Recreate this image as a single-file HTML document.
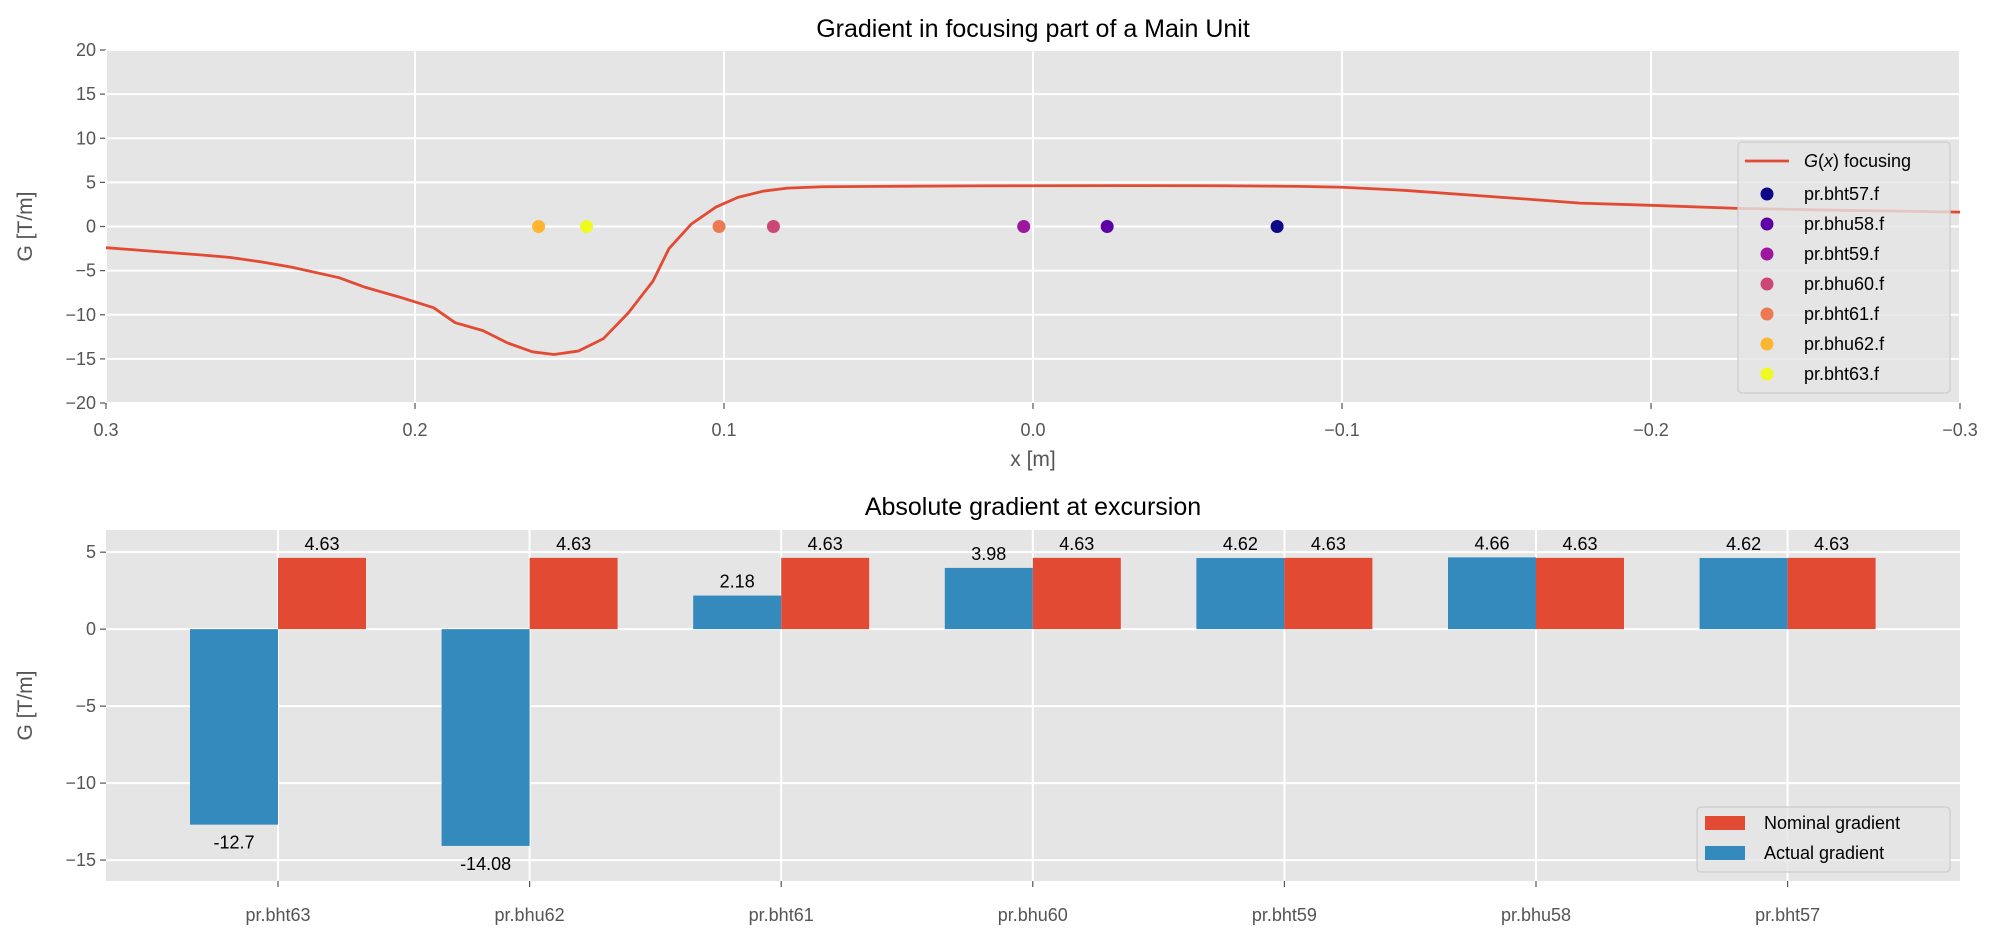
<!DOCTYPE html>
<html><head><meta charset="utf-8">
<style>
html,body{margin:0;padding:0;background:#fff;}
svg{display:block;font-family:"Liberation Sans","DejaVu Sans",sans-serif;}
</style></head>
<body>
<svg id="fig" width="2000" height="932" viewBox="0 0 2000 932" xmlns="http://www.w3.org/2000/svg"></svg>
<script>
// ---- Top chart data ----
const curveX = [0.300,0.285,0.270,0.260,0.250,0.240,0.2246,0.216,0.205,0.194,0.187,0.178,0.170,0.162,0.155,0.147,0.139,0.131,0.123,0.1178,0.1105,0.1026,0.0955,0.0874,0.0795,0.068,0.05,0.02,0.0,-0.03,-0.06,-0.0864,-0.1,-0.12,-0.144,-0.16,-0.177,-0.2,-0.228,-0.26,-0.3];
const curveG = [-2.4,-2.8,-3.2,-3.5,-4.0,-4.6,-5.8,-6.9,-8.0,-9.2,-10.9,-11.8,-13.2,-14.2,-14.5,-14.1,-12.7,-9.8,-6.2,-2.5,0.3,2.2,3.3,4.0,4.35,4.5,4.55,4.6,4.62,4.63,4.62,4.55,4.45,4.1,3.5,3.1,2.65,2.4,2.05,1.85,1.63];
const probeNames = ["pr.bht57.f","pr.bhu58.f","pr.bht59.f","pr.bhu60.f","pr.bht61.f","pr.bhu62.f","pr.bht63.f"];
const probeX = [-0.079,-0.024,0.003,0.084,0.1016,0.160,0.1445];
const probeColors = ["#0d0887","#5c01a6","#9c179e","#cc4778","#ed7953","#fdb42f","#f0f921"];
const topXTicks = [0.3,0.2,0.1,0.0,-0.1,-0.2,-0.3];
const topXTickLabels = ["0.3","0.2","0.1","0.0","\u22120.1","\u22120.2","\u22120.3"];
const topYTicks = [20,15,10,5,0,-5,-10,-15,-20];
const topYTickLabels = ["20","15","10","5","0","\u22125","\u221210","\u221215","\u221220"];
// ---- Bottom chart data ----
const categories = ["pr.bht63","pr.bhu62","pr.bht61","pr.bhu60","pr.bht59","pr.bhu58","pr.bht57"];
const actualG = [-12.7,-14.08,2.18,3.98,4.62,4.66,4.62];
const actualLabels = ["-12.7","-14.08","2.18","3.98","4.62","4.66","4.62"];
const nominalG = [4.63,4.63,4.63,4.63,4.63,4.63,4.63];
const nominalLabels = ["4.63","4.63","4.63","4.63","4.63","4.63","4.63"];
const botYTicks = [5,0,-5,-10,-15];
const botYTickLabels = ["5","0","\u22125","\u221210","\u221215"];

const NS="http://www.w3.org/2000/svg";
const svg=document.getElementById('fig');
function mk(tag,attrs,parent){const e=document.createElementNS(NS,tag);for(const k in attrs)e.setAttribute(k,attrs[k]);(parent||svg).appendChild(e);return e;}
function txt(s,attrs,parent){const e=mk('text',attrs,parent);e.textContent=s;return e;}

// ===== TOP AXES =====
const T={l:106,r:1960,t:50,b:403,x0:0.3,x1:-0.3,y0:20,y1:-20};
const tx=v=>T.l+(v-T.x0)/(T.x1-T.x0)*(T.r-T.l);
const ty=v=>T.t+(v-T.y0)/(T.y1-T.y0)*(T.b-T.t);
const gTop=mk('g',{});


let bg=mk('rect',{x:T.l,y:T.t,width:T.r-T.l,height:T.b-T.t,fill:'#e5e5e5'},gTop);


topYTicks.forEach((v,i)=>{
  const y=ty(v);
  const g=mk('line',{x1:T.l,x2:T.r,y1:y,y2:y,stroke:'#fff','stroke-width':2},gTop);
  
  
  mk('line',{x1:T.l-6,x2:T.l,y1:y,y2:y,stroke:'#555','stroke-width':1.2},gTop);
  const t=txt(topYTickLabels[i],{x:T.l-10,y:y+6,'text-anchor':'end','font-size':18,fill:'#555'},gTop);
  
  
});
topXTicks.forEach((v,i)=>{
  const x=tx(v);
  const g=mk('line',{x1:x,x2:x,y1:T.t,y2:T.b,stroke:'#fff','stroke-width':2},gTop);
  
  
  mk('line',{x1:x,x2:x,y1:T.b,y2:T.b+6,stroke:'#555','stroke-width':1.2},gTop);
  const t=txt(topXTickLabels[i],{x:x,y:T.b+33,'text-anchor':'middle','font-size':18,fill:'#555'},gTop);
  
  
});
const line=mk('polyline',{points:curveX.map((x,i)=>tx(x)+','+ty(curveG[i])).join(' '),fill:'none',stroke:'#E24A33','stroke-width':2.8,'stroke-linejoin':'round'},gTop);


probeX.forEach((x,i)=>{
  const c=mk('circle',{cx:tx(x),cy:ty(0),r:6.5,fill:probeColors[i]},gTop);
  
  
});
let t1=txt('Gradient in focusing part of a Main Unit',{x:(T.l+T.r)/2,y:37,'text-anchor':'middle','font-size':25,fill:'#000'},gTop);


let xl=txt('x [m]',{x:(T.l+T.r)/2,y:466,'text-anchor':'middle','font-size':21,fill:'#555'},gTop);


let yl=txt('G [T/m]',{x:0,y:0,'text-anchor':'middle','font-size':21,fill:'#555',transform:'translate(32,'+((T.t+T.b)/2)+') rotate(-90)'},gTop);


// top legend
const lg=mk('g',{},gTop);


mk('rect',{x:1738,y:142,width:212,height:251,rx:4,fill:'#e5e5e5','fill-opacity':0.8,stroke:'#ccc','stroke-width':1.2},lg);
mk('line',{x1:1745,x2:1789,y1:161,y2:161,stroke:'#E24A33','stroke-width':2.8},lg);
let le=txt('',{x:1804,y:167,'font-size':18,fill:'#000'},lg);
le.innerHTML='<tspan font-style="italic">G</tspan>(<tspan font-style="italic">x</tspan>) focusing';


probeNames.forEach((n,i)=>{
  const y=194+i*30;
  mk('circle',{cx:1767,cy:y,r:6.5,fill:probeColors[i]},lg);
  const t=txt(n,{x:1804,y:y+6,'font-size':18,fill:'#000'},lg);
  
  
});

// ===== BOTTOM AXES =====
const B={l:106,r:1960,t:530,b:881,y0:6.44,y1:-16.36};
const by=v=>B.t+(v-B.y0)/(B.y1-B.y0)*(B.b-B.t);
const bx=i=>278+i*251.6;
const bw=88;
const gB=mk('g',{});


let bg2=mk('rect',{x:B.l,y:B.t,width:B.r-B.l,height:B.b-B.t,fill:'#e5e5e5'},gB);


botYTicks.forEach((v,i)=>{
  const y=by(v);
  const g=mk('line',{x1:B.l,x2:B.r,y1:y,y2:y,stroke:'#fff','stroke-width':2},gB);
  
  
  mk('line',{x1:B.l-6,x2:B.l,y1:y,y2:y,stroke:'#555','stroke-width':1.2},gB);
  const t=txt(botYTickLabels[i],{x:B.l-10,y:y+6,'text-anchor':'end','font-size':18,fill:'#555'},gB);
  
  
});
categories.forEach((c,i)=>{
  const x=bx(i);
  const g=mk('line',{x1:x,x2:x,y1:B.t,y2:B.b,stroke:'#fff','stroke-width':2},gB);
  
  
  mk('line',{x1:x,x2:x,y1:B.b,y2:B.b+6,stroke:'#555','stroke-width':1.2},gB);
  const t=txt(c,{x:x,y:B.b+40,'text-anchor':'middle','font-size':18,fill:'#555'},gB);
  
  
});
categories.forEach((c,i)=>{
  const x=bx(i);
  const a=actualG[i], n=nominalG[i];
  const ya=by(Math.max(a,0)), ha=Math.abs(by(a)-by(0));
  const r1=mk('rect',{x:x-bw,y:ya,width:bw,height:ha,fill:'#348ABD'},gB);
  
  
  const yn=by(Math.max(n,0)), hn=Math.abs(by(n)-by(0));
  const r2=mk('rect',{x:x,y:yn,width:bw,height:hn,fill:'#E24A33'},gB);
  
  
  const la=txt(actualLabels[i],{x:x-bw/2,y:a>=0?by(a)-8:by(a)+24,'text-anchor':'middle','font-size':18,fill:'#000'},gB);
  
  
  const ln=txt(nominalLabels[i],{x:x+bw/2,y:n>=0?by(n)-8:by(n)+24,'text-anchor':'middle','font-size':18,fill:'#000'},gB);
  
  
});
let t2=txt('Absolute gradient at excursion',{x:(B.l+B.r)/2,y:515,'text-anchor':'middle','font-size':25,fill:'#000'},gB);


let yl2=txt('G [T/m]',{x:0,y:0,'text-anchor':'middle','font-size':21,fill:'#555',transform:'translate(32,'+((B.t+B.b)/2)+') rotate(-90)'},gB);


const lg2=mk('g',{},gB);


mk('rect',{x:1697,y:807,width:253,height:65,rx:4,fill:'#e5e5e5','fill-opacity':0.8,stroke:'#ccc','stroke-width':1.2},lg2);
mk('rect',{x:1705,y:816,width:40,height:14,fill:'#E24A33'},lg2);
mk('rect',{x:1705,y:846,width:40,height:14,fill:'#348ABD'},lg2);
let ln1=txt('Nominal gradient',{x:1764,y:829,'font-size':18,fill:'#000'},lg2);


let ln2=txt('Actual gradient',{x:1764,y:859,'font-size':18,fill:'#000'},lg2);


</script>
</body></html>
